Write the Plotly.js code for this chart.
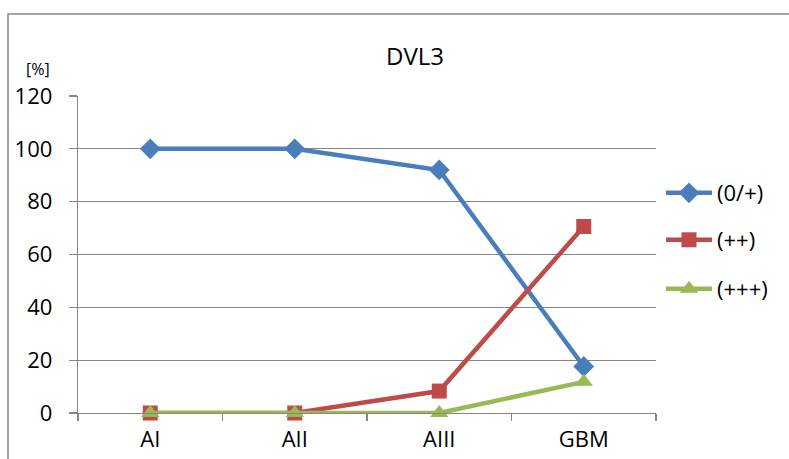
<!DOCTYPE html>
<html>
<head>
<meta charset="utf-8">
<script src="https://cdn.plot.ly/plotly-3.0.1.min.js"></script>
<style>html,body{margin:0;padding:0;background:#fff;}#chart{width:789px;height:459px;}</style>
</head>
<body>
<div id="chart"></div>
<script>
const categories = ["AI", "AII", "AIII", "GBM"];
const seriesNames = ["(0/+)", "(++)", "(+++)"];
const valsLow = [100, 100, 92, 17.6];
const valsMid = [0, 0, 8.3, 70.6];
const valsHigh = [0, 0, 0, 11.8];
const yTicks = [0, 20, 40, 60, 80, 100, 120];

const FONT = "Open Sans, Noto Sans, sans-serif";
const W = 789, H = 459, L = 78, R = 133, T = 96, B = 46;
const pw = W - L - R, ph = H - T - B;
const px = x => (x - L) / pw;
const py = y => 1 - (y - T) / ph;

const colors = ["#4a7ebb", "#be4b48", "#98b954"];
const symbols = ["diamond", "square", "triangle-up"];
const sizes = [16, 15, 16];
const data = [valsLow, valsMid, valsHigh].map((v, i) => ({
  type: "scatter", mode: "lines+markers", x: categories, y: v, name: seriesNames[i],
  line: {color: colors[i], width: 4.5},
  marker: {color: colors[i], symbol: symbols[i], size: sizes[i]},
  legend: i === 0 ? "legend" : "legend" + (i + 1),
  cliponaxis: false
}));

const legY = [193, 240, 289];
const legendBase = i => ({
  x: px(661), xanchor: "left", y: py(legY[i]), yanchor: "middle",
  font: {family: FONT, size: 22, color: "#000"}, bgcolor: "rgba(0,0,0,0)",
  borderwidth: 0, itemwidth: 46
});

const layout = {
  width: W, height: H,
  margin: {l: L, r: R, t: T, b: B},
  paper_bgcolor: "#fff", plot_bgcolor: "#fff",
  showlegend: true,
  title: {text: "DVL3", font: {family: FONT, size: 24, color: "#000"}, x: px(382), xanchor: "center", y: 1 - 57 / H, yanchor: "middle"},
  xaxis: {
    type: "category", range: [-0.5, 3.5],
    showline: true, linecolor: "#868686", linewidth: 1.3,
    ticks: "outside", ticklen: 7, tickcolor: "#868686", tickwidth: 1.3,
    tickson: "boundaries", showgrid: false,
    tickfont: {family: FONT, size: 22, color: "#000"}, ticklabelstandoff: 6
  },
  yaxis: {
    range: [0, 120], tickvals: yTicks, ticktext: yTicks.map(String),
    showline: true, linecolor: "#868686", linewidth: 1.3,
    ticks: "outside", ticklen: 8, tickcolor: "#868686", tickwidth: 1.3,
    showgrid: true, gridcolor: "#868686", gridwidth: 1.3, zeroline: false,
    tickfont: {family: FONT, size: 22, color: "#000"}, ticklabelstandoff: 12
  },
  legend: legendBase(0), legend2: legendBase(1), legend3: legendBase(2),
  annotations: [{text: "[%]", xref: "paper", yref: "paper", x: px(38), y: py(69), xanchor: "center", yanchor: "middle", showarrow: false, font: {family: FONT, size: 16, color: "#000"}}],
  shapes: [{type: "rect", xref: "paper", yref: "paper", x0: px(8), x1: px(800), y0: py(470), y1: py(14), line: {color: "#868686", width: 1.5}, fillcolor: "rgba(0,0,0,0)", layer: "below"}]
};

Plotly.newPlot("chart", data, layout, {displayModeBar: false, staticPlot: true});
</script>
</body>
</html>
